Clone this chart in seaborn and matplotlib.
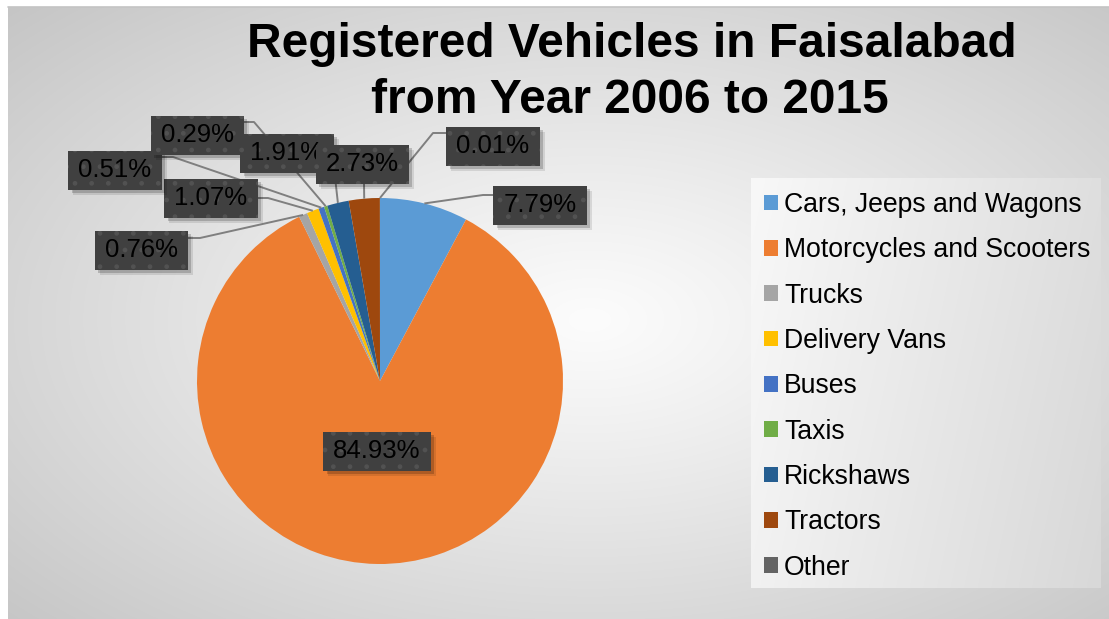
import numpy as np
import matplotlib
matplotlib.use("Agg")
import matplotlib.pyplot as plt
import seaborn as sns
from matplotlib.patches import Patch, Rectangle

# ---------------- data ----------------
categories = ["Cars, Jeeps and Wagons", "Motorcycles and Scooters", "Trucks",
              "Delivery Vans", "Buses", "Taxis", "Rickshaws", "Tractors", "Other"]
shares = [7.79, 84.93, 0.76, 1.07, 0.51, 0.29, 1.91, 2.73, 0.01]
label_texts = ["7.79%", "84.93%", "0.76%", "1.07%", "0.51%", "0.29%", "1.91%", "2.73%", "0.01%"]
colors = ["#5B9BD5", "#ED7D31", "#A5A5A5", "#FFC000", "#4472C4",
          "#70AD47", "#255E91", "#9E480E", "#636363"]
title_lines = ["Registered Vehicles in Faisalabad", "from Year 2006 to 2015"]

# ---------------- layout (pixels, y measured from top) ----------------
W, H = 1109, 619
PIE_C = (380, 381)
PIE_R = 183
# box centres for each label
label_pos = [(540, 205), (377, 451), (141, 250), (211, 198), (115, 170),
             (197, 135), (287, 153), (362, 164), (493, 146)]
# leader line elbow / end points (None = no leader)
leader_pts = [[(483, 195), (493, 195)],
              None,
              [(200, 238), (187, 238)],
              [(268, 198), (257, 198)],
              [(173, 157), (162, 157)],
              [(254, 122), (244, 122)],
              [(334, 168)],
              [(364, 183)],
              [(433, 133), (446, 133)]]
draw_order = [0, 1, 2, 3, 4, 5, 6, 7, 8]

sns.set_theme(style="white")
plt.rcParams["font.family"] = ["Liberation Sans", "DejaVu Sans"]

fig = plt.figure(figsize=(W / 100, H / 100), dpi=100)
ax = fig.add_axes([0, 0, 1, 1])


def Y(py):
    return H - py


# ---------- background panel (radial grey gradient) ----------
px0, py0 = 8, 7
xs = np.arange(px0, W) + 0.5
ys = np.arange(py0, H) + 0.5
XX, YY = np.meshgrid(xs, ys)
cx, cy = 590, 320
r = np.sqrt(((XX - cx) / 570.0) ** 2 + ((YY - cy) / 320.0) ** 2) / np.sqrt(2)
r = np.clip(r, 0, 1)
val = 252 - 55 * r ** 1.1
img = np.dstack([val, val, val]) / 255.0
ax.imshow(img, extent=(px0, W, Y(H), Y(py0)), origin="upper", zorder=0,
          interpolation="bilinear", aspect="auto")
ax.plot([px0, W], [Y(py0), Y(py0)], color="#c4c4c4", lw=1.2, zorder=0.5)

# ---------- legend box background ----------
lx0, lx1, ly0, ly1 = 751, 1101, 178, 588
lgx = np.linspace(0, 1, 200)
lgy = np.linspace(0, 1, 200)
LX, LY = np.meshgrid(lgx, lgy)
lval = 248 - 32 * (0.8 * LX + 0.2 * LY)
limg = np.dstack([lval, lval, lval]) / 255.0
ax.imshow(limg, extent=(lx0, lx1, Y(ly1), Y(ly0)), origin="upper", zorder=0.6,
          interpolation="bilinear", aspect="auto")

# ---------- pie ----------
wedges, _ = ax.pie(shares, colors=colors, startangle=90, counterclock=False,
                   center=(PIE_C[0], Y(PIE_C[1])), radius=PIE_R,
                   wedgeprops=dict(linewidth=0), frame=True)
for w in wedges:
    w.set_zorder(2)

# ---------- leader lines ----------
for i, pts in enumerate(leader_pts):
    if pts is None:
        continue
    w = wedges[i]
    ang = np.deg2rad((w.theta1 + w.theta2) / 2)
    ex = PIE_C[0] + PIE_R * np.cos(ang)
    ey = Y(PIE_C[1]) + PIE_R * np.sin(ang)
    xs_l = [ex] + [p[0] for p in pts]
    ys_l = [ey] + [Y(p[1]) for p in pts]
    ax.plot(xs_l, ys_l, color="#7f7f7f", lw=1.4, zorder=3, solid_capstyle="butt")

# ---------- data label boxes ----------
fig.canvas.draw()
renderer = fig.canvas.get_renderer()
for k, i in enumerate(draw_order):
    x, y = label_pos[i]
    t = ax.text(x, Y(y), label_texts[i], ha="center", va="center",
                fontsize=18.5, color="black", zorder=10 + 3 * k + 2)
    bb = t.get_window_extent(renderer)
    bw = bb.width + 20
    bh = 39
    # shadow
    for off, a in [(5, 0.10), (3.5, 0.18)]:
        ax.add_patch(Rectangle((x - bw / 2 + off, Y(y) - bh / 2 - off), bw, bh,
                               facecolor="black", alpha=a, lw=0,
                               zorder=10 + 3 * k))
    ax.add_patch(Rectangle((x - bw / 2, Y(y) - bh / 2), bw, bh,
                           facecolor="#404040", edgecolor="#525252", lw=0,
                           hatch=".", zorder=10 + 3 * k + 1))

# ---------- title ----------
ax.text(632, Y(57), title_lines[0], ha="center", va="baseline",
        fontsize=34.5, fontweight="bold", color="black", zorder=20)
ax.text(630, Y(113), title_lines[1], ha="center", va="baseline",
        fontsize=34.5, fontweight="bold", color="black", zorder=20)

# ---------- legend ----------
handles = [Patch(facecolor=c, edgecolor="none") for c in colors]
leg = ax.legend(handles, categories, loc="upper left",
                bbox_to_anchor=(764 / W, 1 - 192 / H), frameon=False,
                fontsize=19.2, handlelength=0.53, handleheight=0.53,
                handletextpad=0.22, labelspacing=0.725, borderaxespad=0,
                borderpad=0)
leg.set_zorder(30)
for txt in leg.get_texts():
    txt.set_color("black")

ax.set_xlim(0, W)
ax.set_ylim(0, H)
ax.set_aspect("auto")
ax.axis("off")
fig.savefig("out.png", dpi=100, facecolor="white")
